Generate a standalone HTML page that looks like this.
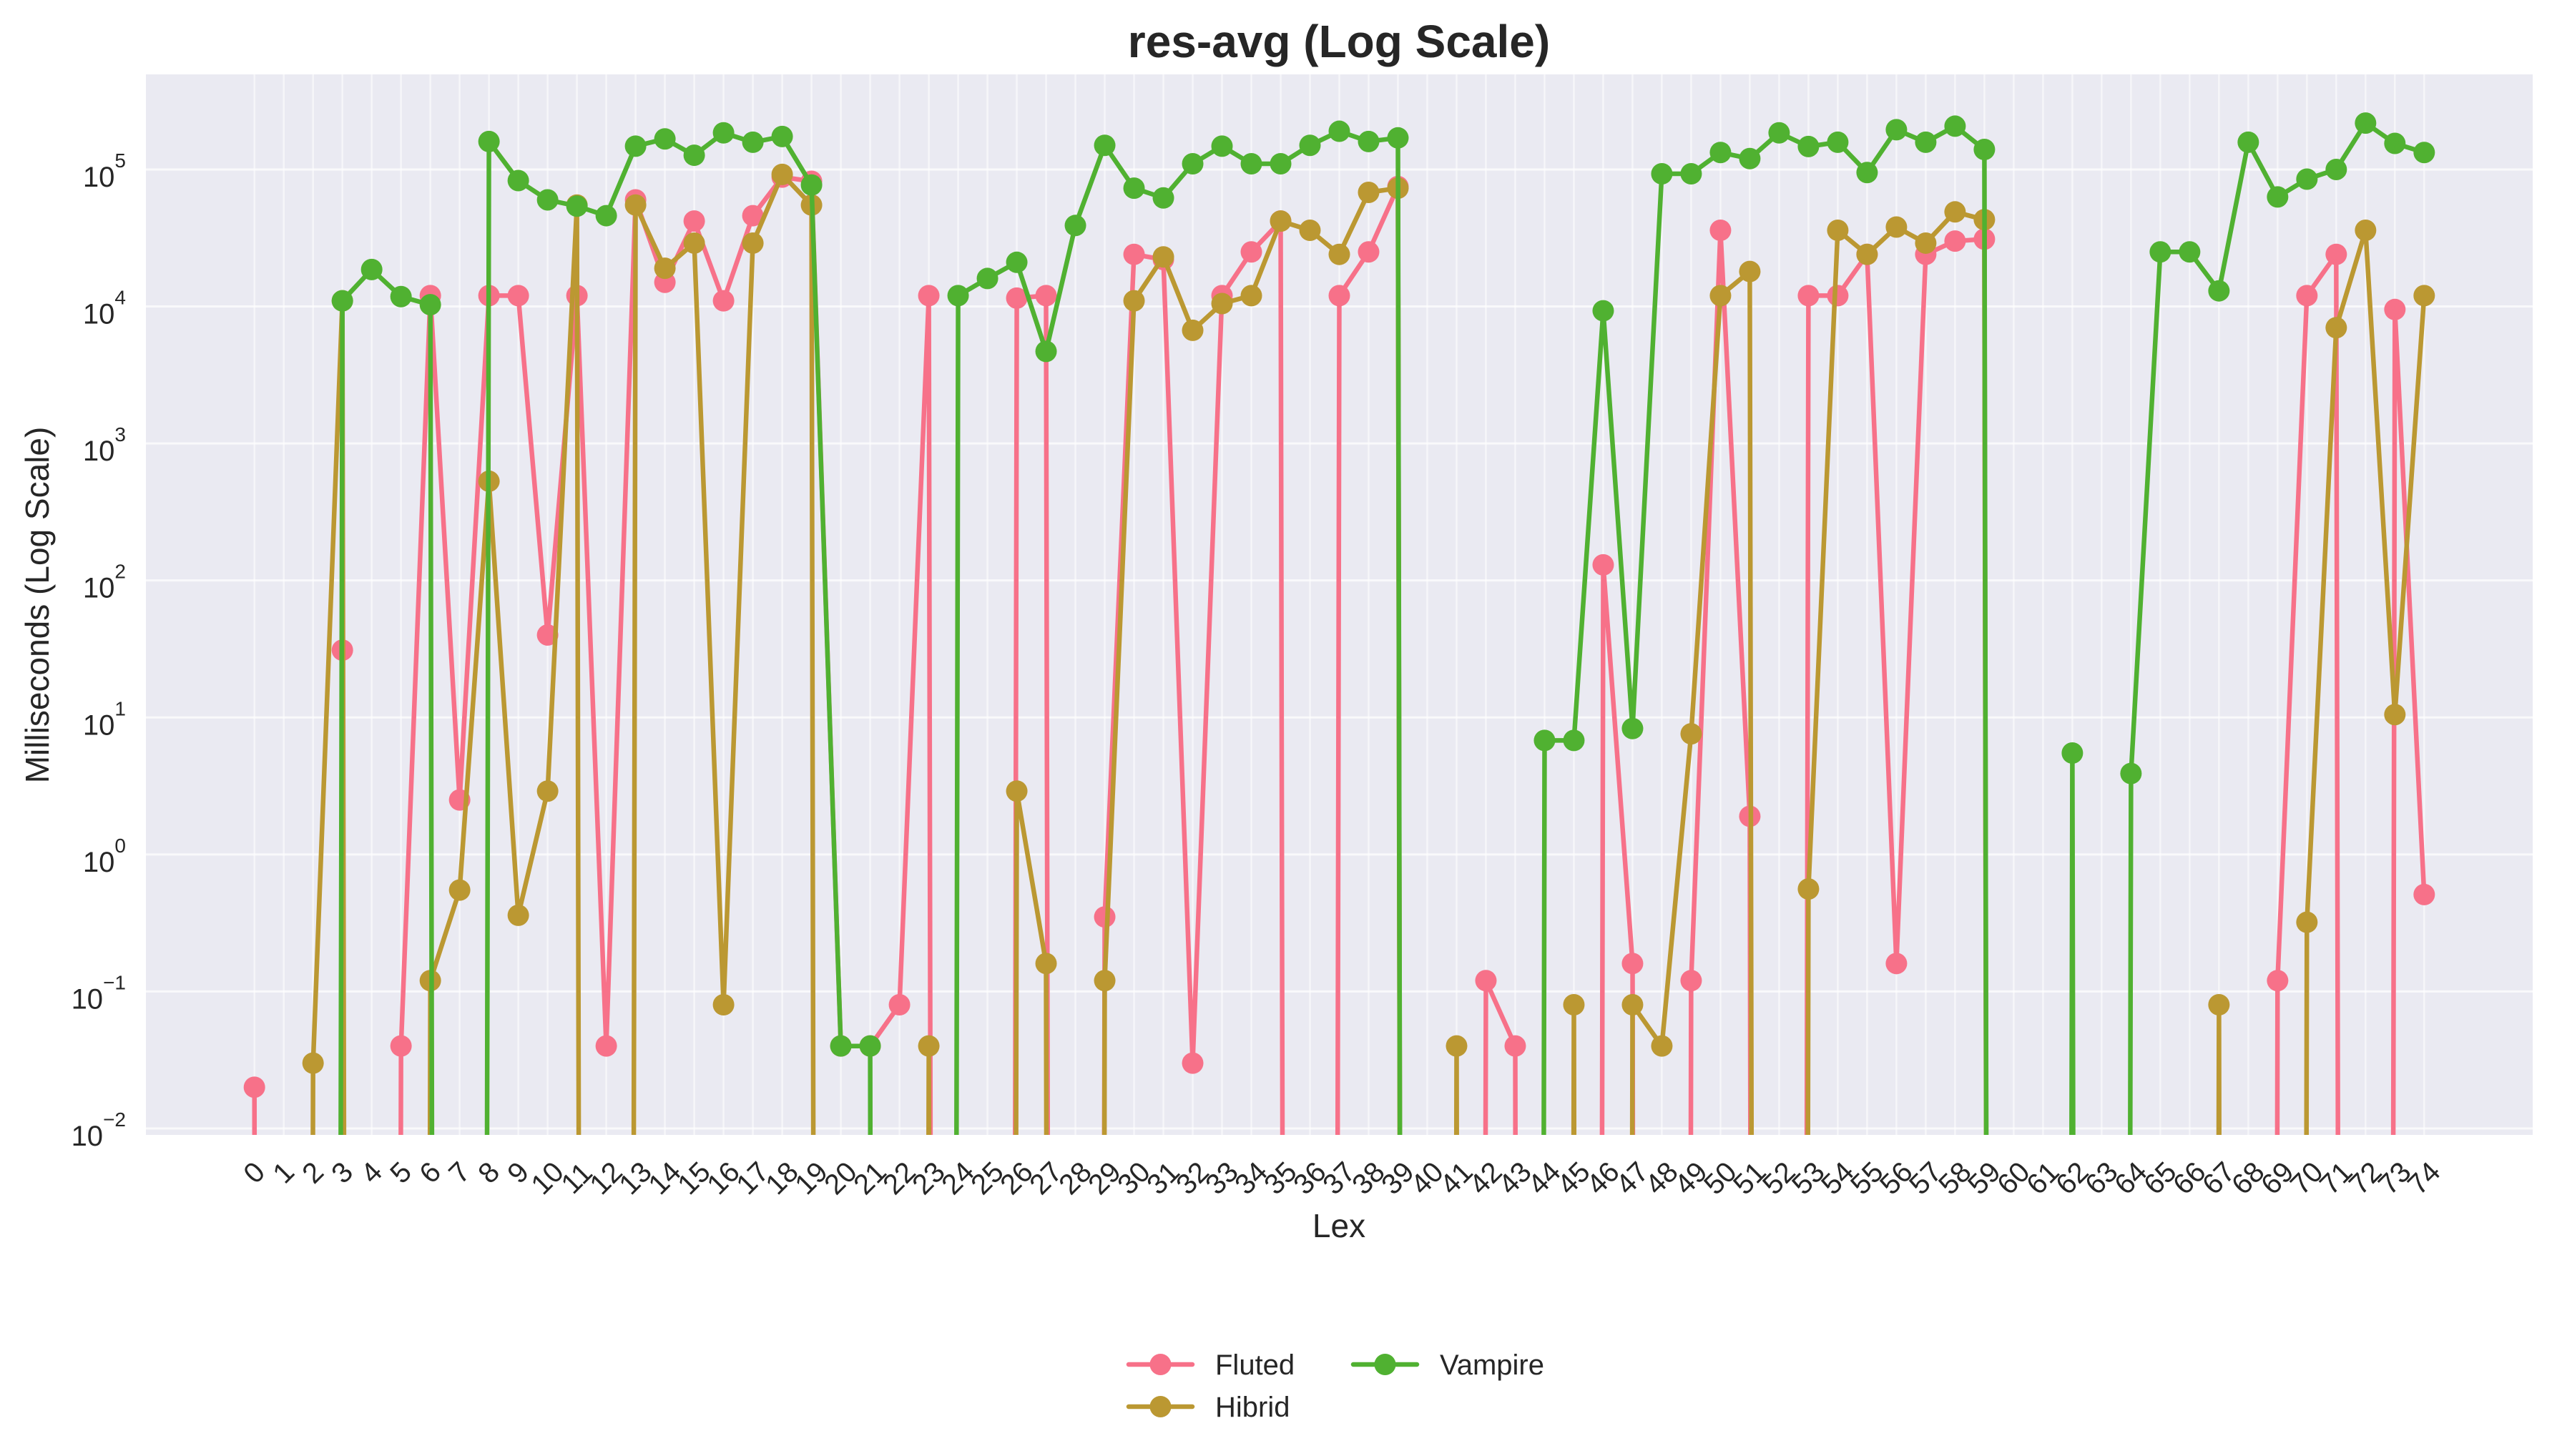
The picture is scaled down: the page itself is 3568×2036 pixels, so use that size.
<!DOCTYPE html>
<html><head><meta charset="utf-8">
<style>
html,body{margin:0;padding:0;background:#fff;overflow:hidden;width:3568px;height:2036px;}
svg{display:block;font-family:"Liberation Sans",Arial,sans-serif;}
</style></head>
<body>
<svg id="chart" width="3568" height="2036" viewBox="0 0 3568 2036" xmlns="http://www.w3.org/2000/svg">
<defs><clipPath id="plotclip"><rect x="204" y="104" width="3337" height="1483"/></clipPath></defs>
<rect x="0" y="0" width="3568" height="2036" fill="#ffffff"/>
<rect x="204" y="104" width="3337" height="1483" fill="#eaeaf2"/>
<g id="grid"></g>
<g id="series" clip-path="url(#plotclip)"></g>
<g id="xticks"></g>
<g id="yticks"></g>
<text x="1872" y="80" text-anchor="middle" font-size="64" font-weight="bold" fill="#262626">res-avg (Log Scale)</text>
<text x="1872" y="1730" text-anchor="middle" font-size="46" fill="#262626">Lex</text>
<text transform="translate(68,846) rotate(-90)" text-anchor="middle" font-size="46" fill="#262626">Milliseconds (Log Scale)</text>
<g id="legend"></g>
</svg>
<script>
const categories = [];
for (let i = 0; i <= 74; i++) categories.push(String(i));
const seriesNames = ["Fluted", "Hibrid", "Vampire"];
const flutedValues = [0.02,0,0,31,0,0.04,12000,2.5,12000,12000,40,12000,0.04,60000,15000,42000,11000,46000,88000,82000,
  0.04,0.04,0.08,12000,0,0,11500,12000,0,0.35,24000,22000,0.03,12000,25000,42000,0,12000,25000,75000,
  0,0,0.12,0.04,0,0,130,0.16,0,0.12,36000,1.9,0,12000,12000,24000,0.16,24000,30000,31000,
  0,0,0,0,0,0,0,0,0,0.12,12000,24000,0,9500,0.51];
const hibridValues = [0,0,0.03,11000,0,0,0.12,0.55,530,0.36,2.9,55000,0,55000,19000,29000,0.08,29000,92000,55000,
  0,0,0,0.04,0,0,2.9,0.16,0,0.12,11000,23000,6700,10500,12000,42000,36000,24000,68000,73000,
  0,0.04,0,0,0,0.08,0,0.08,0.04,7.6,12000,18000,0,0.56,36000,24000,38000,29000,49000,43000,
  0,0,0,0,0,0,0,0.08,0,0,0.32,7000,36000,10.5,12000];
const vampireValues = [0,0,0,11000,18600,11800,10300,0,160000,83000,60000,54000,46000,148000,167000,127000,185000,158000,174000,77000,
  0.04,0.04,0,0,12000,16000,21000,4700,39000,150000,73000,62000,110000,148000,110000,110000,150000,190000,160000,170000,
  0,0,0,0,6.8,6.8,9300,8.3,93000,93000,133000,120000,185000,147000,158000,95000,195000,158000,207000,140000,
  0,0,5.5,0,3.9,25000,25000,13000,158000,63000,85000,100000,218000,155000,133000];
const yTickExps = [-2,-1,0,1,2,3,4,5];
const colors = ["#f77189","#bb9832","#50b131"];

const NS = "http://www.w3.org/2000/svg";
const PL=204, PR=3541, PT=104, PB=1587;
const XMIN=-3.7, XMAX=77.7, LMIN=-2.047, LMAX=5.694;
const FAR = PB + 20000, CUT = PB + 6;
function xs(i){ return PL + (i - XMIN) / (XMAX - XMIN) * (PR - PL); }
function ys(v){
  if (!(v > 0)) return FAR;
  const l = Math.log10(v);
  return PB - (l - LMIN) / (LMAX - LMIN) * (PB - PT);
}
function mk(tag, attrs, parent){
  const e = document.createElementNS(NS, tag);
  for (const k in attrs) e.setAttribute(k, attrs[k]);
  parent.appendChild(e); return e;
}
const grid = document.getElementById('grid');
categories.forEach((c, i) => {
  const g = mk('line', {x1:xs(i), x2:xs(i), y1:PT, y2:PB, stroke:'#ffffff', 'stroke-width':2.5, 'stroke-opacity':0.55}, grid);
  
  
});
yTickExps.forEach(e => {
  const y = ys(Math.pow(10, e));
  const g = mk('line', {x1:PL, x2:PR, y1:y, y2:y, stroke:'#ffffff', 'stroke-width':3, 'stroke-opacity':0.7}, grid);
  
  
});
const yt = document.getElementById('yticks');
yTickExps.forEach(e => {
  const y = ys(Math.pow(10, e));
  const t = mk('text', {x:176, y:y+24, 'text-anchor':'end', 'font-size':40, fill:'#262626'}, yt);
  
  
  const base = document.createElementNS(NS, 'tspan');
  base.textContent = '10';
  t.appendChild(base);
  const sup = document.createElementNS(NS, 'tspan');
  sup.setAttribute('font-size', '28');
  sup.setAttribute('dy', '-27');
  sup.textContent = (e < 0 ? '\u2212' : '') + Math.abs(e);
  t.appendChild(sup);
});
const xt = document.getElementById('xticks');
categories.forEach((c, i) => {
  const w = c.length * 22, h = 29;
  const cy = 1622 + (w + h) * 0.707 / 2;
  const t = mk('text', {x:xs(i), y:cy, 'text-anchor':'middle', 'dominant-baseline':'central', 'font-size':40, fill:'#262626',
    transform:'rotate(-45 ' + xs(i) + ' ' + cy + ')'}, xt);
  
  
  t.textContent = c;
});
function clipPt(ax, ay, bx, by){
  // point on segment a->b where y == CUT (b is far below)
  const t = (CUT - ay) / (by - ay);
  return [ax + (bx - ax) * t, CUT];
}
const sg = document.getElementById('series');
const allValues = [flutedValues, hibridValues, vampireValues];
allValues.forEach((vals, si) => {
  const g = mk('g', {}, sg);
  
  
  let d = '';
  for (let i = 0; i < vals.length - 1; i++) {
    const ax = xs(i), ay = ys(vals[i]), bx = xs(i+1), by = ys(vals[i+1]);
    const aOk = vals[i] > 0, bOk = vals[i+1] > 0;
    if (!aOk && !bOk) continue;
    let p1 = [ax, ay], p2 = [bx, by];
    if (!aOk) p1 = clipPt(bx, by, ax, ay);
    if (!bOk) p2 = clipPt(ax, ay, bx, by);
    d += 'M' + p1[0].toFixed(1) + ',' + p1[1].toFixed(1) + 'L' + p2[0].toFixed(1) + ',' + p2[1].toFixed(1);
  }
  const pl = mk('path', {d:d, fill:'none', stroke:colors[si], 'stroke-width':6.5, 'stroke-linejoin':'round', 'stroke-linecap':'round'}, g);
  
  
  vals.forEach((v, i) => {
    if (!(v > 0)) return;
    const c = mk('circle', {cx:xs(i), cy:ys(v), r:15, fill:colors[si]}, g);
    
    
  });
});
const lg = document.getElementById('legend');
const legPos = [[1578,1908],[1578,1967],[1892,1908]];
seriesNames.forEach((n, si) => {
  const [lx, ly] = legPos[si];
  const g = mk('g', {}, lg);
  
  
  mk('line', {x1:lx, x2:lx+89, y1:ly, y2:ly, stroke:colors[si], 'stroke-width':6.5, 'stroke-linecap':'round'}, g);
  mk('circle', {cx:lx+44.5, cy:ly, r:15, fill:colors[si]}, g);
  const t = mk('text', {x:lx+121, y:ly+14, 'font-size':40, fill:'#262626'}, g);
  t.textContent = n;
});
</script>
</body></html>
